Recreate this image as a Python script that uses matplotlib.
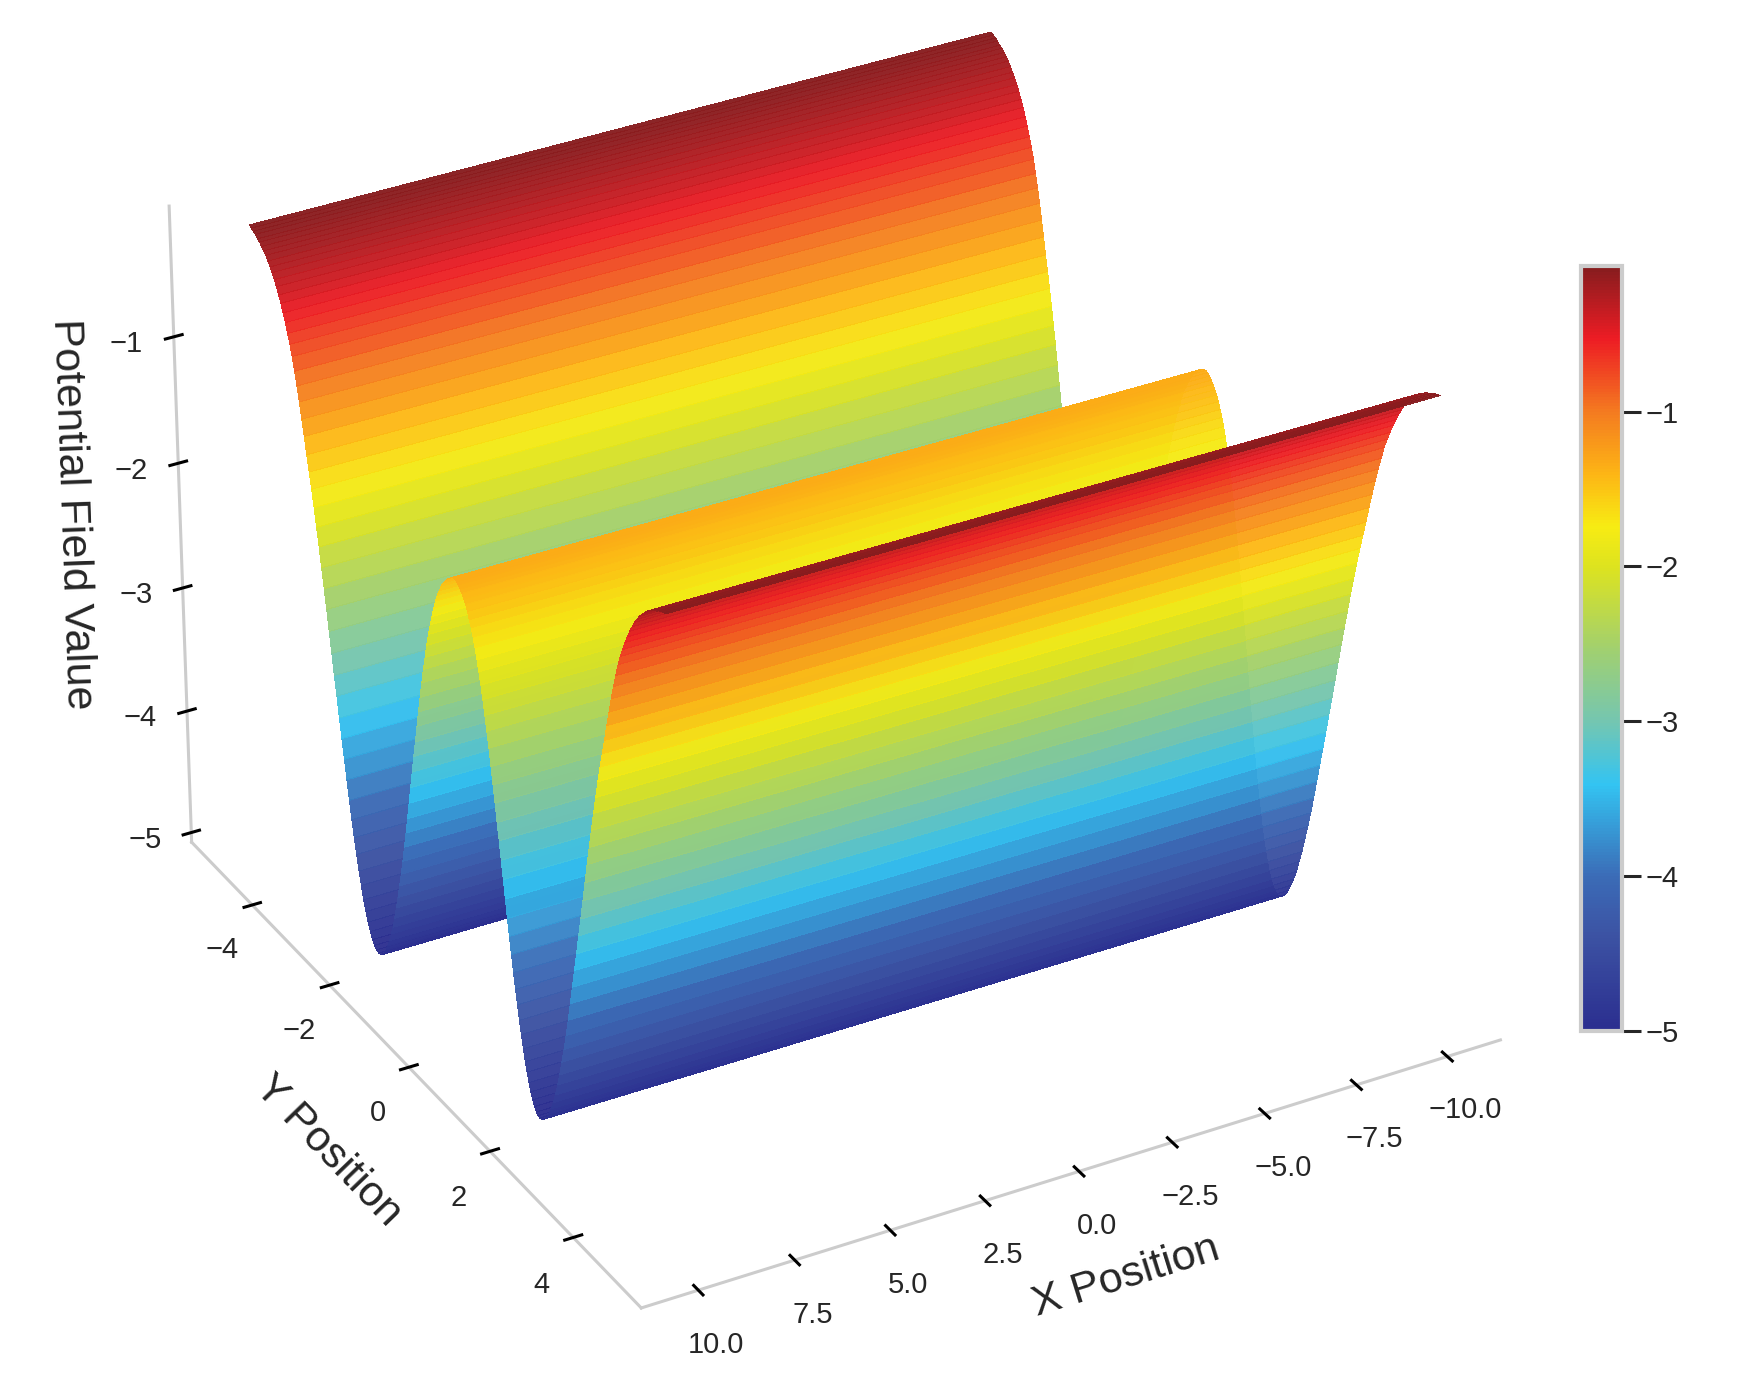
#!/usr/bin/env python3
import numpy as np
import matplotlib
matplotlib.use('Agg')
import matplotlib.pyplot as plt
from matplotlib.colors import LinearSegmentedColormap

plt.rcParams['font.family'] = ['Liberation Sans', 'DejaVu Sans']

# potential read along the profile: ridge at y=0, then the well, then the outer shoulder
z_inner = [-1.34, -1.345, -1.36, -1.38, -1.40, -1.43, -1.46, -1.50, -1.55, -1.60,
           -1.66, -1.73, -1.81, -1.89, -1.98, -2.08, -2.19, -2.30, -2.42, -2.55,
           -2.68, -2.81, -2.95, -3.08, -3.22, -3.36, -3.50, -3.64, -3.77, -3.90,
           -4.03, -4.15, -4.26, -4.37, -4.47, -4.57, -4.66, -4.73, -4.80, -4.86,
           -4.91, -4.95, -4.98, -4.995, -5.00]
z_outer = [-4.99, -4.97, -4.94, -4.89, -4.83,
           -4.76, -4.68, -4.58, -4.48, -4.36, -4.24, -4.11, -3.97, -3.82, -3.67,
           -3.52, -3.37, -3.21, -3.06, -2.90, -2.74, -2.58, -2.43, -2.28, -2.13,
           -1.99, -1.85, -1.72, -1.60, -1.48, -1.35, -1.23, -1.11, -1.00, -0.90,
           -0.80, -0.72, -0.65, -0.58, -0.52, -0.46, -0.41, -0.36, -0.32, -0.28,
           -0.25, -0.22, -0.19, -0.17, -0.15, -0.13, -0.12, -0.10, -0.09, -0.08, -0.07]
well_left = -2.15
well_right = 1.85
y_end = 5.0
x_vals = [-10.0, 10.0]

x_ticks = [-10.0, -7.5, -5.0, -2.5, 0.0, 2.5, 5.0, 7.5, 10.0]
y_ticks = [-4, -2, 0, 2, 4]
z_ticks = [-5, -4, -3, -2, -1]

cmap_pos = [-5.0, -4.4, -4.0, -3.41, -3.0, -2.5, -2.0, -1.74, -1.4, -1.0, -0.52, -0.06]
cmap_col = ['#2b2e8f', '#3c52a3', '#3b6cb7', '#33c4f2', '#75c6b0', '#a5d16a',
            '#dde31f', '#f7ec13', '#fdb515', '#f47b20', '#ed1c24', '#861c1e']

# both wells share the read values, only their y spacing differs
n_in, n_out = len(z_inner), len(z_outer)
y_right = np.concatenate([np.linspace(0, well_right, n_in),
                          np.linspace(well_right, y_end, n_out + 1)[1:]])
y_left = np.concatenate([np.linspace(0, well_left, n_in),
                         np.linspace(well_left, -y_end, n_out + 1)[1:]])
y = np.concatenate([y_left[:0:-1], y_right])
z_half = z_inner + z_outer
z_prof = np.array(z_half[:0:-1] + z_half)
X, Y = np.meshgrid(x_vals, y)
Z = np.tile(z_prof[:, None], (1, len(x_vals)))

vmin, vmax = cmap_pos[0], cmap_pos[-1]
cmap = LinearSegmentedColormap.from_list(
    'potential', [((p - vmin) / (vmax - vmin), c) for p, c in zip(cmap_pos, cmap_col)], N=256)

fig = plt.figure(figsize=(17.37, 13.92), dpi=100)
ax = fig.add_axes([-0.061, -0.044, 1.06, 1.16], projection='3d')
surf = ax.plot_surface(X, Y, Z, cmap=cmap, vmin=vmin, vmax=vmax, rstride=1, cstride=1,
                       linewidth=0, antialiased=False, alpha=0.96, shade=False)
ax.view_init(elev=30.6, azim=60.8)
ax.set_proj_type('persp', focal_length=1.25)
ax.set_box_aspect((4, 4, 3.05), zoom=0.945)
ax.set_xlim(-11.47, 11.47)
ax.set_ylim(-5.6, 5.6)
ax.set_zlim(-5.08, 0.02)
ax.set_xticks(x_ticks)
ax.set_yticks(y_ticks)
ax.set_zticks(z_ticks)
ax.grid(False)
for a in (ax.xaxis, ax.yaxis, ax.zaxis):
    a.set_pane_color((1, 1, 1, 0))
    a.pane.set_edgecolor((1, 1, 1, 0))
    a.line.set_color('#cccccc')
    a.line.set_linewidth(2.2)
    a._axinfo['tick']['linewidth'] = {True: 2.2, False: 1}
    a._axinfo['tick']['color'] = '#262626'
    a._axinfo['tick']['inward_factor'] = 0.12
    a._axinfo['tick']['outward_factor'] = 0.12
ax.tick_params(axis='both', labelsize=21, labelcolor='#262626', pad=14)
ax.set_xlabel('X Position', fontsize=31, color='#262626', labelpad=36)
ax.set_ylabel('Y Position', fontsize=31, color='#262626', labelpad=36)
ax.set_zlabel('Potential Field Value', fontsize=31, color='#262626', labelpad=30)

cax = fig.add_axes([1581 / 1737, 1 - 1031 / 1392, 41 / 1737, 765 / 1392])
cb = fig.colorbar(surf, cax=cax)
cb.solids.set_alpha(1)
cb.set_ticks(z_ticks)
cb.outline.set_edgecolor('#cccccc')
cb.outline.set_linewidth(3)
cb.ax.tick_params(labelsize=21, labelcolor='#262626', length=14, width=2.2, color='#262626', pad=3)

fig.savefig('out.png', dpi=100)
